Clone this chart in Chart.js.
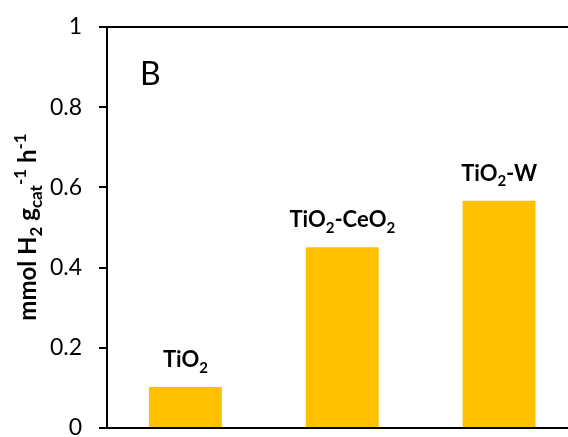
<!DOCTYPE html>
<html>
<head>
<meta charset="utf-8">
<script src="https://cdn.jsdelivr.net/npm/chart.js@4.4.1/dist/chart.umd.min.js"></script>
<style>
  html, body { margin: 0; padding: 0; background: #fff; overflow: hidden; }
  #wrap { position: relative; width: 590px; height: 437px; }
</style>
</head>
<body>
<div id="wrap"><canvas id="chart"></canvas></div>
<script>
// ---------- Data ----------
const categories = ['TiO_{2}', 'TiO_{2}-CeO_{2}', 'TiO_{2}-W'];
const rates = [0.102, 0.451, 0.567];
const yTicks = [0, 0.2, 0.4, 0.6, 0.8, 1];
const yTitle = 'mmol H_{2} g_{cat}^{-1} h^{-1}';
const panelLetter = 'B';

const FONT = 'Lato';
const INK = '#000';

// ---------- Rich text (sub/superscripts) ----------
function parseRich(str) {
  const parts = [];
  const re = /([_^])\{([^}]*)\}|([^_^]+)/g;
  let m;
  while ((m = re.exec(str))) {
    if (m[3]) parts.push({ text: m[3], mode: 'normal' });
    else parts.push({ text: m[2], mode: m[1] === '_' ? 'sub' : 'sup' });
  }
  return parts;
}

function drawRich(ctx, str, x, y, size, weight, align) {
  const parts = parseRich(str);
  const fontFor = p => `${weight} ${p.mode === 'normal' ? size : Math.round(size * 0.7)}px ${FONT}`;
  let total = 0;
  parts.forEach(p => {
    ctx.font = fontFor(p);
    p.w = ctx.measureText(p.text).width;
    total += p.w;
  });
  let cx = align === 'center' ? x - total / 2 : x;
  ctx.textAlign = 'left';
  ctx.textBaseline = 'alphabetic';
  parts.forEach(p => {
    ctx.font = fontFor(p);
    const dy = p.mode === 'sub' ? size * 0.25 : p.mode === 'sup' ? -size * 0.42 : 0;
    ctx.fillText(p.text, cx, y + dy);
    cx += p.w;
  });
}

const decorations = {
  id: 'decorations',
  afterDatasetsDraw(chart) {
    const { ctx, chartArea } = chart;
    ctx.save();
    ctx.fillStyle = INK;
    ctx.strokeStyle = INK;

    // top frame line
    ctx.lineWidth = 2;
    ctx.beginPath();
    ctx.moveTo(chartArea.left, chartArea.top);
    ctx.lineTo(chartArea.right, chartArea.top);
    ctx.stroke();

    // labels above bars
    const meta = chart.getDatasetMeta(0);
    meta.data.forEach((bar, i) => {
      drawRich(ctx, categories[i], bar.x, bar.y - 20, 22, 'bold', 'center');
    });

    // y axis title
    ctx.save();
    ctx.translate(36, 227);
    ctx.rotate(-Math.PI / 2);
    drawRich(ctx, yTitle, 0, 0, 24, 'bold', 'center');
    ctx.restore();

    // panel letter
    ctx.font = `normal 32px ${FONT}`;
    ctx.textAlign = 'left';
    ctx.textBaseline = 'alphabetic';
    ctx.fillText(panelLetter, 140, 85);
    ctx.restore();
  }
};

// ---------- Chart ----------
new Chart(document.getElementById('chart'), {
  type: 'bar',
  data: {
    labels: categories,
    datasets: [{
      data: rates,
      backgroundColor: '#FFC000',
      borderWidth: 0,
      categoryPercentage: 1,
      barPercentage: 0.465
    }]
  },
  options: {
    responsive: true,
    maintainAspectRatio: false,
    animation: false,
    layout: { padding: { left: 0, top: 27, right: 12.5, bottom: 9 } },
    plugins: { legend: { display: false }, tooltip: { enabled: false } },
    scales: {
      x: {
        ticks: { display: false },
        grid: { display: false },
        border: { display: true, color: INK, width: 2 },
        afterFit: s => { s.height = 0; }
      },
      y: {
        min: 0,
        max: 1,
        afterBuildTicks: s => { s.ticks = yTicks.map(v => ({ value: v })); },
        ticks: {
          color: INK,
          padding: 17,
          font: { family: FONT, size: 23 },
          callback: v => String(v)
        },
        grid: { drawOnChartArea: false, drawTicks: true, tickLength: 8, color: INK, lineWidth: 2 },
        border: { display: true, color: INK, width: 2 },
        afterFit: s => { s.width = 107; s.paddingTop = 0; s.paddingBottom = 0; }
      }
    }
  },
  plugins: [decorations]
});
</script>
</body>
</html>
